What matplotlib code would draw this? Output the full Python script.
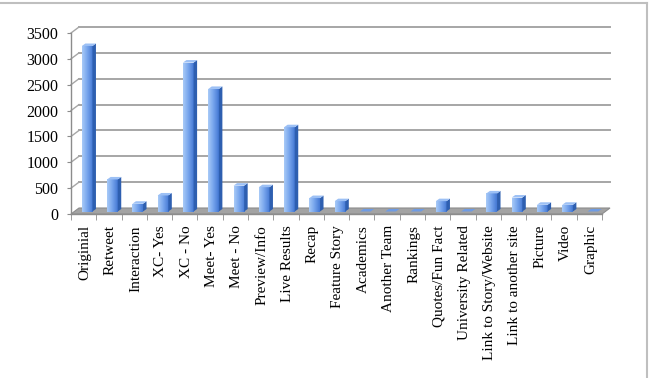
# Tweet categories - 3D style column chart (Excel look)

import numpy as np
import matplotlib.pyplot as plt
from matplotlib.patches import Polygon
from matplotlib.lines import Line2D
from matplotlib.colors import LinearSegmentedColormap

categories = ["Originial", "Retweet", "Interaction", "XC- Yes", "XC - No",
              "Meet- Yes", "Meet - No", "Preview/Info", "Live Results", "Recap",
              "Feature Story", "Academics", "Another Team", "Rankings",
              "Quotes/Fun Fact", "University Related", "Link to Story/Website",
              "Link to another site", "Picture", "Video", "Graphic"]
counts = [3200, 620, 150, 310, 2880, 2370, 500, 470, 1630, 260,
          200, 0, 0, 0, 200, 0, 350, 270, 130, 130, 0]
yticks = [0, 500, 1000, 1500, 2000, 2500, 3000, 3500]

plt.rcParams['font.family'] = 'Liberation Serif'

W, H = 651, 378
fig = plt.figure(figsize=(W / 100, H / 100), dpi=100)
ax = fig.add_axes([71 / W, 1 - 214 / H, (602 - 71) / W, (214 - 33) / H])
n = len(categories)
ax.set_xlim(0, n)
ax.set_ylim(0, 3500)
for s in ax.spines.values():
    s.set_visible(False)

# pixel -> data conversion
p0 = ax.transData.transform((0, 0))
p1 = ax.transData.transform((1, 1))
sx = p1[0] - p0[0]
sy = p1[1] - p0[1]
def px(dx, dy):
    return dx / sx, dy / sy

grid_col = '#A6A6A6'
Dx, Dy = px(8, 6)

# floor
floor = Polygon([(0, 0), (n, 0), (n + Dx, Dy), (Dx, Dy)], closed=True,
                facecolor='#A3A3A3', edgecolor='#8C8C8C', lw=0.8,
                clip_on=False, zorder=1)
ax.add_patch(floor)

# back wall + side wall grid
for v in yticks[1:]:
    ax.plot([Dx, n + Dx], [v + Dy, v + Dy], color=grid_col, lw=1.4,
            clip_on=False, zorder=0.5)
    ax.plot([0, Dx], [v, v + Dy], color=grid_col, lw=1.0,
            clip_on=False, zorder=0.5)

# left axis
ax.plot([0, 0], [0, 3500], color='#8C8C8C', lw=1.0, clip_on=False, zorder=2)
ax.set_yticks(yticks)
ax.tick_params(axis='y', length=3, color='#8C8C8C', labelsize=11.5, pad=6)

# x axis ticks
ax.plot([0, n], [0, 0], color='#8C8C8C', lw=1.0, clip_on=False, zorder=2)
ax.set_xticks(np.arange(n) + 0.55)
ax.set_xticklabels(categories, rotation=90, fontsize=11)
ax.set_xticks(np.arange(n + 1), minor=True)
ax.tick_params(axis='x', which='major', length=0, pad=8)
ax.tick_params(axis='x', which='minor', length=4, color='#8C8C8C')

# bars
cmap = LinearSegmentedColormap.from_list('b', ['#A9CBF8', '#76A4EC', '#4478D3'])
grad = np.linspace(0, 1, 64).reshape(1, -1)
bw = 0.42
ox, oy = px(3.5, 2.5)
dx, dy = px(3.5, 2.5)
for i, v in enumerate(counts):
    x0 = i + 0.5 - bw / 2 + ox
    x1 = x0 + bw
    y0 = oy
    y1 = v + oy
    if v > 0:
        ax.imshow(grad, cmap=cmap, extent=[x0, x1, y0, y1], aspect='auto',
                  zorder=3, interpolation='bilinear')
        side = Polygon([(x1, y0), (x1 + dx, y0 + dy), (x1 + dx, y1 + dy), (x1, y1)],
                       closed=True, facecolor='#2E5FB0', edgecolor='none', zorder=3)
        ax.add_patch(side)
    top = Polygon([(x0, y1), (x1, y1), (x1 + dx, y1 + dy), (x0 + dx, y1 + dy)],
                  closed=True, facecolor='#9CC0F5' if v > 0 else '#6E9BE3',
                  edgecolor='none', zorder=3)
    ax.add_patch(top)

ax.set_xlim(0, n)
ax.set_ylim(0, 3500)

# chart border (top and right visible)
fig.add_artist(Line2D([0, 647 / W], [1 - 3 / H, 1 - 3 / H], color='#BFBFBF', lw=1.5))
fig.add_artist(Line2D([647 / W, 647 / W], [1 - 3 / H, 0], color='#BFBFBF', lw=1.5))

plt.savefig('out.png', dpi=100)
